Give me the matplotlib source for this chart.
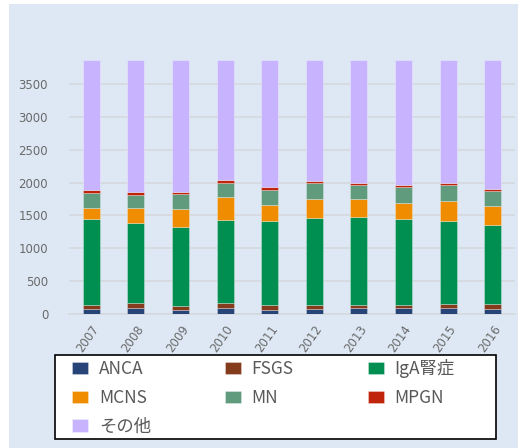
import matplotlib.pyplot as plt
import numpy as np

# data
years = ['2007', '2008', '2009', '2010', '2011', '2012', '2013', '2014', '2015', '2016']
anca = [76, 101, 71, 91, 71, 76, 91, 91, 91, 76]
fsgs = [66, 76, 50, 86, 71, 66, 51, 51, 71, 86]
iga = [1305, 1214, 1204, 1254, 1274, 1325, 1340, 1305, 1254, 1199]
mcns = [161, 217, 268, 344, 248, 283, 268, 247, 304, 288]
mn = [228, 203, 233, 223, 228, 238, 218, 243, 248, 228]
mpgn = [51, 45, 30, 40, 40, 30, 30, 18, 18, 18]
other = [1973, 2004, 2004, 1822, 1928, 1842, 1862, 1905, 1874, 1965]

series = ['ANCA', 'FSGS', 'IgA腎症', 'MCNS', 'MN', 'MPGN', 'その他']
colors = ['#264478', '#843c1c', '#008f50', '#f08c00', '#5f9b7c', '#c0250c', '#c8b4fe']
values = [anca, fsgs, iga, mcns, mn, mpgn, other]

bg = '#dde8f4'
W, H = 518, 448
fig = plt.figure(figsize=(W / 100, H / 100), dpi=100)
fig.patch.set_facecolor('white')
# light blue chart area behind everything
fig.patches.append(plt.Rectangle((9 / W, 0), 509 / W, 444 / H, transform=fig.transFigure,
                                 facecolor=bg, edgecolor='none', zorder=-10))

ax = fig.add_axes([69 / W, 133.7 / H, 446 / W, 255 / H])
ax.set_facecolor('none')

x = np.arange(len(years))
bottom = np.zeros(len(years))
handles = []
for name, vals, c in zip(series, values, colors):
    b = ax.bar(x, vals, 0.38, bottom=bottom, color=c, label=name,
               edgecolor=(1, 1, 1, 0.35), linewidth=0.6, zorder=3)
    handles.append(b)
    bottom += np.array(vals)

ax.set_xlim(-0.5, 9.5)
ax.set_ylim(0, 3870)
ax.set_yticks(np.arange(0, 3501, 500))
ax.grid(axis='y', color='#d4d9de', linewidth=1.2, zorder=0)
for s in ['top', 'right', 'left']:
    ax.spines[s].set_visible(False)
ax.spines['bottom'].set_color('#d4d9de')
ax.spines['bottom'].set_linewidth(1.2)
ax.tick_params(length=0, colors='#6a6a6a', labelsize=8.5)
ax.tick_params(axis='y', pad=15)
ax.tick_params(axis='x', pad=6)
ax.set_xticks(x)
ax.set_xticklabels(years, rotation=55, ha='right', rotation_mode='anchor')

# legend box (white with black border)
fig.patches.append(plt.Rectangle((55 / W, (H - 439) / H), 441 / W, 84 / H, transform=fig.transFigure,
                                 facecolor='white', edgecolor='black', linewidth=1.2, zorder=1))

# row-major order in 3 columns
order = [0, 3, 6, 1, 4, 2, 5]
leg = fig.legend([handles[i] for i in order], [series[i] for i in order],
                 loc='upper left', bbox_to_anchor=(72 / W, (H - 359) / H),
                 ncol=3, frameon=False,
                 prop={'family': ['Noto Sans CJK JP', 'DejaVu Sans'], 'size': 12.5},
                 handlelength=0.95, handleheight=0.7, handletextpad=0.6,
                 labelspacing=0.62, borderpad=0, borderaxespad=0, columnspacing=4.25)
leg.set_zorder(2)
for t in leg.get_texts():
    t.set_color('#595959')

fig.savefig('out.png', dpi=100)
